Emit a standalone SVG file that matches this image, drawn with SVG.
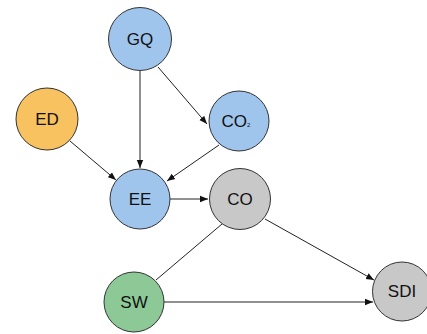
<svg xmlns="http://www.w3.org/2000/svg" width="427" height="334" viewBox="0 0 427 334">
<style>
.n{stroke:#333;stroke-width:1}
.b{fill:#9fc5ec}
.o{fill:#f7c25f}
.g{fill:#c8c8c8}
.gr{fill:#8dc997}
text{font-family:"Liberation Sans",Arial,sans-serif;font-size:17px;fill:#111;text-anchor:middle;dominant-baseline:central}
.e{stroke:#222;stroke-width:1;fill:none}
</style>
<defs>
<marker id="a" viewBox="0 0 10 10" refX="10" refY="5" markerWidth="8" markerHeight="8" markerUnits="userSpaceOnUse" orient="auto">
<path d="M0,1 L10,5 L0,9 z" fill="#111"/>
</marker>
</defs>
<rect width="427" height="334" fill="#fff"/>
<g id="edges">
<line class="e" x1="140" y1="71" x2="140" y2="168" marker-end="url(#a)"/>
<line class="e" x1="158" y1="67" x2="207" y2="124" marker-end="url(#a)"/>
<line class="e" x1="70" y1="141" x2="116" y2="180" marker-end="url(#a)"/>
<line class="e" x1="219" y1="145" x2="167" y2="181" marker-end="url(#a)"/>
<line class="e" x1="170" y1="199" x2="208" y2="199" marker-end="url(#a)"/>
<line class="e" x1="265" y1="219" x2="374" y2="280" marker-end="url(#a)"/>
<line class="e" x1="222" y1="224" x2="156" y2="280"/>
<line class="e" x1="164" y1="302" x2="373" y2="302" marker-end="url(#a)"/>
</g>
<g id="GQ"><circle class="n b" cx="140" cy="39" r="31.5"/><text x="140" y="39">GQ</text></g>
<g id="ED"><circle class="n o" cx="47" cy="119" r="31"/><text x="47" y="119">ED</text></g>
<g id="CO2"><circle class="n b" cx="239" cy="121" r="30"/><text x="236" y="121">CO<tspan font-size="6" dy="4">2</tspan></text></g>
<g id="EE"><circle class="n b" cx="140" cy="199" r="30"/><text x="140" y="199">EE</text></g>
<g id="CO"><circle class="n g" cx="240" cy="199" r="30.5"/><text x="240" y="199">CO</text></g>
<g id="SW"><circle class="n gr" cx="134" cy="302" r="30"/><text x="134" y="302">SW</text></g>
<g id="SDI"><circle class="n g" cx="402" cy="291.5" r="29.5"/><text x="402" y="291.5">SDI</text></g>
</svg>
